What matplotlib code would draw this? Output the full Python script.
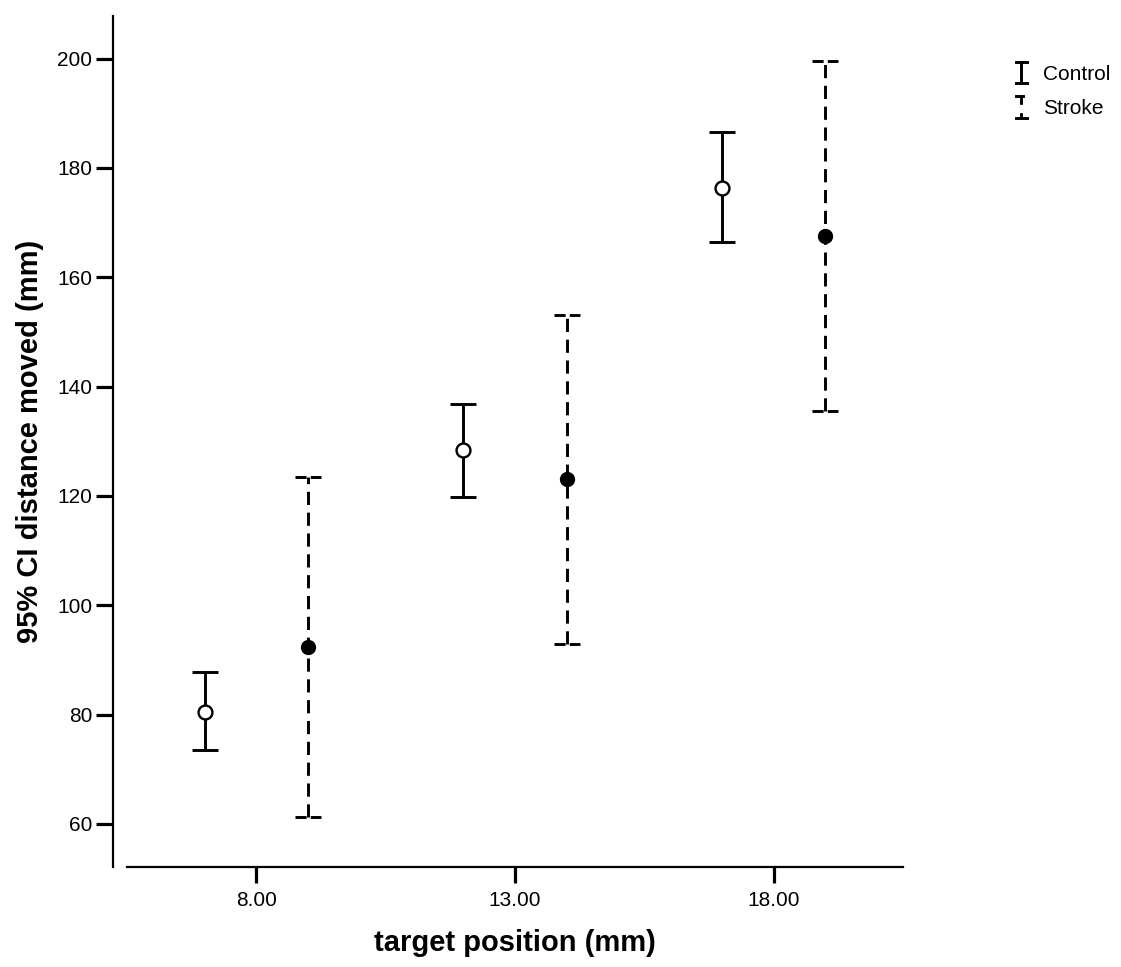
import matplotlib
matplotlib.use("Agg")
import matplotlib.pyplot as plt
from matplotlib.lines import Line2D
from matplotlib.legend_handler import HandlerBase

# ---- data ----
target_positions = [8, 13, 18]
tick_labels_x = ["8.00", "13.00", "18.00"]
y_ticks = [60, 80, 100, 120, 140, 160, 180, 200]

control_mean = [80.5, 128.4, 176.4]
control_lower = [73.5, 119.9, 166.4]
control_upper = [87.8, 136.8, 186.5]

stroke_mean = [92.4, 123.1, 167.5]
stroke_lower = [61.3, 92.9, 135.5]
stroke_upper = [123.5, 153.1, 199.6]

groups = ["Control", "Stroke"]

# ---- style ----
plt.rcParams['font.family'] = ['Liberation Sans', 'DejaVu Sans']
plt.rcParams['lines.scale_dashes'] = False

W, H, DPI = 1121, 967, 100
fig = plt.figure(figsize=(W / DPI, H / DPI), dpi=DPI)
ax = fig.add_axes([127 / W, 1 - 867 / H, (903 - 127) / W, (867 - 16) / H])

ax.set_xlim(5.5, 20.5)
ax.set_ylim(52.13, 207.8)

dodge = 1.0
cap_half = 0.25
lw = 2.1
vdash = (0, (9.5, 5.5))
capdash = (0, (8.0, 3.0))

for i, p in enumerate(target_positions):
    # control (solid)
    xc = p - dodge
    ax.vlines(xc, control_lower[i], control_upper[i], colors='black', linewidth=lw, zorder=2)
    ax.hlines([control_lower[i], control_upper[i]], xc - cap_half, xc + cap_half,
              colors='black', linewidth=lw, zorder=2)
    ax.plot([xc], [control_mean[i]], marker='o', markersize=10, markerfacecolor='white',
            markeredgecolor='black', markeredgewidth=1.7, linestyle='none', zorder=3)
    # stroke (dashed)
    xs = p + dodge
    ax.vlines(xs, stroke_lower[i], stroke_upper[i], colors='black', linewidth=lw,
              linestyles=[vdash], zorder=2)
    ax.hlines([stroke_lower[i], stroke_upper[i]], xs - cap_half, xs + cap_half,
              colors='black', linewidth=lw, linestyles=[capdash], zorder=2)
    ax.plot([xs], [stroke_mean[i]], marker='o', markersize=10, markerfacecolor='black',
            markeredgecolor='black', linestyle='none', zorder=3)

# ---- axes styling ----
for s in ['top', 'right']:
    ax.spines[s].set_visible(False)
ax.spines['left'].set_position(('outward', 10))
ax.spines['left'].set_linewidth(1.6)
ax.spines['bottom'].set_linewidth(1.6)

ax.set_xticks(target_positions)
ax.set_xticklabels(tick_labels_x)
ax.set_yticks(y_ticks)
ax.set_yticklabels([str(v) for v in y_ticks])
ax.tick_params(axis='both', direction='out', width=2.3, labelsize=15, colors='black')
ax.tick_params(axis='y', length=12, pad=3)
ax.tick_params(axis='x', length=11.5, pad=6)

ax.set_xlabel("target position (mm)", fontsize=21, fontweight='bold')
ax.set_ylabel("95% CI distance moved (mm)", fontsize=21, fontweight='bold')
ax.xaxis.set_label_coords(0.5, -0.073)
ax.yaxis.set_label_coords(-0.107, 0.5)


# ---- legend with I-beam icons ----
class IBeamHandler(HandlerBase):
    def __init__(self, dashed=False, **kw):
        super().__init__(**kw)
        self.dashed = dashed

    def create_artists(self, legend, orig_handle, xdescent, ydescent, width, height,
                       fontsize, trans):
        x0, y0 = -xdescent, -ydescent
        cx = x0 + width / 2
        hw = width * 0.42
        top, bot = y0 + height, y0
        arts = []
        if not self.dashed:
            arts.append(Line2D([cx, cx], [bot, top], color='black', lw=2.1))
            arts.append(Line2D([cx - hw, cx + hw], [top, top], color='black', lw=2.1))
            arts.append(Line2D([cx - hw, cx + hw], [bot, bot], color='black', lw=2.1))
        else:
            arts.append(Line2D([cx, cx], [top, bot], color='black', lw=2.1,
                               linestyle=(0, (6.0, 6.0))))
            arts.append(Line2D([cx - hw, cx + hw * 0.35], [top, top], color='black', lw=2.1))
            arts.append(Line2D([cx - hw, cx + hw], [bot, bot], color='black', lw=2.1))
        for a in arts:
            a.set_transform(trans)
        return arts


h_control = Line2D([], [], color='black')
h_stroke = Line2D([], [], color='black', linestyle='--')
fig.legend([h_control, h_stroke], groups, loc='upper left',
           bbox_to_anchor=(1015 / W, 1 - 62 / H), frameon=False, fontsize=15,
           handlelength=0.6, handleheight=1.2, handletextpad=0.75,
           labelspacing=0.6, borderpad=0, borderaxespad=0,
           handler_map={h_control: IBeamHandler(dashed=False),
                        h_stroke: IBeamHandler(dashed=True)})

fig.savefig("out.png", dpi=DPI)
